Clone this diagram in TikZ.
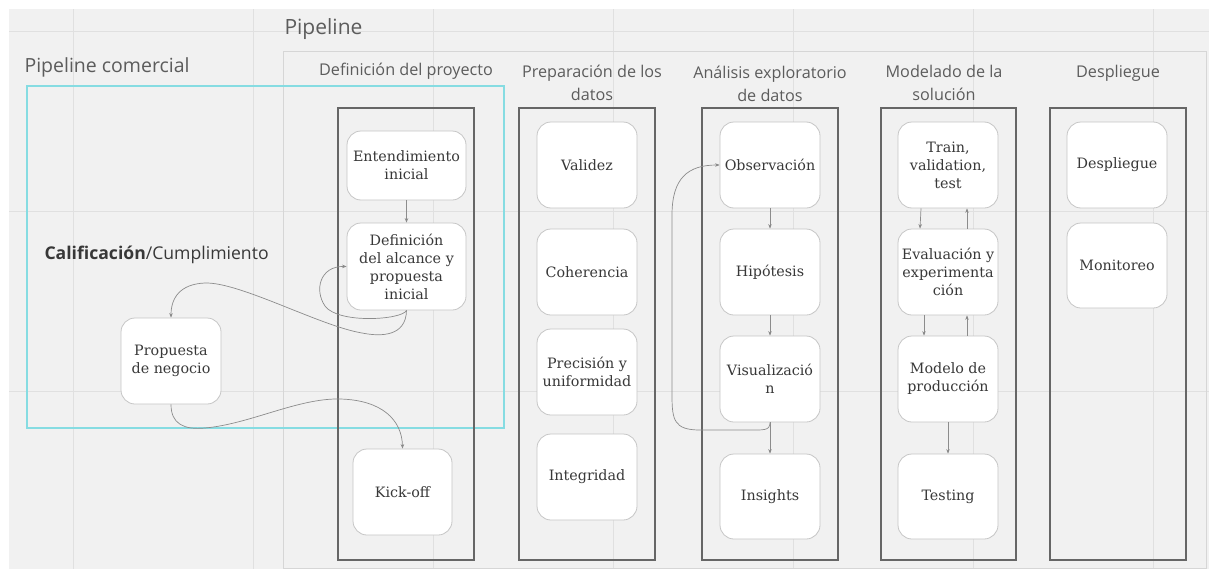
\documentclass[tikz,border=0pt]{standalone}
\usepackage{fontspec}
\setmainfont{DejaVu Serif}
\newfontfamily\headfont{Open Sans}
\usetikzlibrary{arrows.meta}

\definecolor{canvas}{HTML}{F1F1F1}
\definecolor{gridline}{HTML}{E0E0E0}
\definecolor{framegray}{HTML}{D6D6D6}
\definecolor{commcyan}{HTML}{86DCE2}
\definecolor{lanegray}{HTML}{666666}
\definecolor{cardedge}{HTML}{C6C6C6}
\definecolor{cardtext}{HTML}{383838}
\definecolor{headtext}{HTML}{5C5C5C}
\definecolor{linkgray}{HTML}{8C8C8C}

\tikzset{
  card/.style={rectangle, rounded corners=14pt, draw=cardedge, line width=0.8pt,
    fill=white, minimum width=100pt, minimum height=86pt, inner sep=2pt,
    align=center, text=cardtext, font=\fontsize{14.3}{18}\selectfont},
  lane/.style={draw=lanegray, line width=1.4pt},
  header/.style={align=center, text=headtext, font=\headfont\fontsize{16.2}{23}\selectfont},
  link/.style={draw=linkgray, line width=0.7pt,
    -{Stealth[length=4.5pt,width=3.5pt,fill=cardtext]}},
}

\begin{document}
\begin{tikzpicture}[x=1pt,y=-1pt]
  \useasboundingbox (0,0) rectangle (1209,570);
  % board background and grid
  \fill[canvas] (9,9) rectangle (1209,569);
  \foreach \gx in {73,253,433,613,793,973,1153}
    \draw[gridline, line width=1pt] (\gx,9) -- (\gx,569);
  \foreach \gy in {31,211,391}
    \draw[gridline, line width=1pt] (9,\gy) -- (1209,\gy);

  % frames
  \draw[framegray, line width=1pt] (283,51) rectangle (1206,568);
  \draw[commcyan, line width=1.2pt] (27,86) rectangle (504,428);

  \node[header, font=\headfont\fontsize{21}{24}\selectfont, anchor=west] (tpipe) at (281,29) {Pipeline};
  \node[header, font=\headfont\fontsize{19.5}{22}\selectfont, anchor=west] (tcom) at (21,67) {Pipeline comercial};
  \node[anchor=west, text=cardtext, font=\headfont\fontsize{17.6}{20}\selectfont] (tcal) at (41,255)
    {\textbf{Calificación}/Cumplimiento};

  % lanes
  \draw[lane] (338,108) rectangle (474,560);
  \draw[lane] (519,108) rectangle (655,560);
  \draw[lane] (702,108) rectangle (838,560);
  \draw[lane] (881,108) rectangle (1016,560);
  \draw[lane] (1050,108) rectangle (1186,560);

  % lane headers
  \node[header] (h1) at (406,71) {Definición del proyecto};
  \node[header] (h2) at (592,83) {Preparación de los\\datos};
  \node[header] (h3) at (770,84) {Análisis exploratorio\\de datos};
  \node[header] (h4) at (944,83) {Modelado de la\\solución};
  \node[header] (h5) at (1118,73) {Despliegue};

  % project definition
  \node[card, minimum width=119pt, minimum height=69pt] (ent) at (406.5,165.5) {Entendimiento\\inicial};
  \node[card, minimum width=119pt, minimum height=87pt] (def) at (406.5,266.5) {Definición\\del alcance y\\propuesta\\inicial};
  \node[card, minimum width=99pt] (kick) at (402.5,492) {Kick-off};
  \node[card] (prop) at (171,361) {Propuesta\\de negocio};

  % data preparation
  \node[card] (val) at (587,165) {Validez};
  \node[card] (coh) at (587,272) {Coherencia};
  \node[card] (pre) at (587,372) {Precisión y\\uniformidad};
  \node[card] (int) at (587,477) {Integridad};

  % exploratory analysis
  \node[card] (obs) at (770,165) {Observación};
  \node[card] (hip) at (770,272) {Hipótesis};
  \node[card] (vis) at (770,379) {Visualizació\\n};
  \node[card, minimum height=85pt] (ins) at (770,496.5) {Insights};

  % modelling
  \node[card] (train) at (948,165) {Train,\\validation,\\test};
  \node[card] (eval) at (948,272) {Evaluación y\\experimenta\\ción};
  \node[card] (mod) at (948,379) {Modelo de\\producción};
  \node[card, minimum height=85pt] (test) at (948,496.5) {Testing};

  % deployment
  \node[card] (desp) at (1117,165) {Despliegue};
  \node[card, minimum height=85pt] (mon) at (1117,265.5) {Monitoreo};

  % connectors
  \draw[link] (ent.south) -- (def.north);
  \draw[link] (def.south) .. controls (406,336) and (382,337) .. (362,333)
    .. controls (320,326) and (240,282) .. (205,283)
    .. controls (180,284) and (171,298) .. (prop.north);
  \draw[link] (def.south) .. controls (402,320) and (338,324) .. (325,306)
    .. controls (314,290) and (320,266) .. (def.west);
  \draw[link] (prop.south) .. controls (171,424) and (184,430) .. (205,428)
    .. controls (250,424) and (298,398) .. (340,399)
    .. controls (382,400) and (402,420) .. (kick.north);

  \draw[link] (obs.south) -- (hip.north);
  \draw[link] (hip.south) -- (vis.north);
  \draw[link] (vis.south) -- (ins.north);
  \draw[link] (vis.south) .. controls (770,431) and (764,430) .. (745,430)
    -- (700,430) .. controls (674,430) and (672,420) .. (672,395)
    -- (672,215) .. controls (672,178) and (688,165) .. (obs.west);

  \draw[link] ([xshift=-27pt]train.south) -- ([xshift=-28pt]eval.north);
  \draw[link] ([xshift=19pt]eval.north) -- ([xshift=19pt]train.south);
  \draw[link] ([xshift=-24pt]eval.south) -- ([xshift=-24pt]mod.north);
  \draw[link] ([xshift=19pt]mod.north) -- ([xshift=19pt]eval.south);
  \draw[link] (mod.south) -- (test.north);
\end{tikzpicture}
\end{document}
